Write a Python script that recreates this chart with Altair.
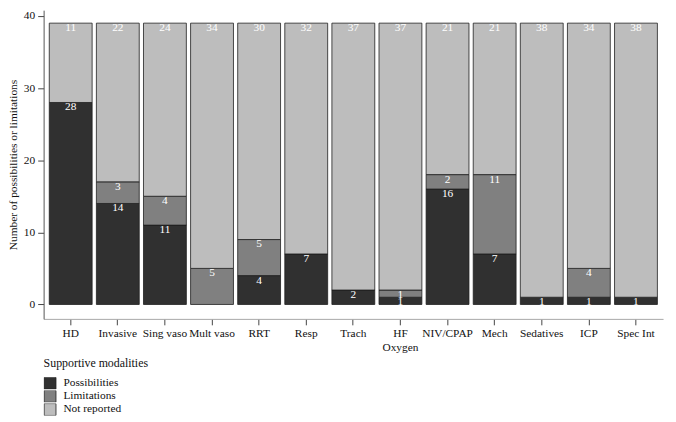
import altair as alt
import pandas as pd

categories = ["HD", "Invasive", "Sing vaso", "Mult vaso", "RRT", "Resp", "Trach",
              "HF Oxygen", "NIV/CPAP", "Mech", "Sedatives", "ICP", "Spec Int"]
possibilities = [28, 14, 11, 0, 4, 7, 2, 1, 16, 7, 1, 1, 1]
limitations = [0, 3, 4, 5, 5, 0, 0, 1, 2, 11, 0, 4, 0]
not_reported = [11, 22, 24, 34, 30, 32, 37, 37, 21, 21, 38, 34, 38]
series = ["Possibilities", "Limitations", "Not reported"]
colors = ["#303030", "#808080", "#bdbdbd"]

rows = []
for i, c in enumerate(categories):
    for k, (s, vals) in enumerate(zip(series, [possibilities, limitations, not_reported])):
        rows.append({"cat": c, "series": s, "ord": k, "value": vals[i]})
df = pd.DataFrame(rows)

FONT = "Liberation Serif"

base = alt.Chart(df).transform_stack(
    stack="value", groupby=["cat"], sort=[alt.SortField("ord", order="ascending")],
    as_=["y0", "y1"]
)

x_enc = alt.X("cat:N", sort=categories, title=None,
              scale=alt.Scale(domain=categories, paddingInner=0.09, paddingOuter=0.12),
              axis=alt.Axis(labelAngle=0, tickSize=6, labelPadding=3,
                            labelExpr="datum.value == 'HF Oxygen' ? ['HF', 'Oxygen'] : datum.value",
                            domainColor="#a8a8a8", tickColor="#444", labelColor="#111",
                            labelFontSize=11.5, labelFont=FONT))

bars = base.mark_bar(stroke="#1e1e1e", strokeWidth=0.8).encode(
    x=x_enc,
    y=alt.Y("y0:Q", title="Number of possibilities or limitations",
            scale=alt.Scale(domain=[-2.0, 40.8], nice=False, zero=False),
            axis=alt.Axis(values=[0, 10, 20, 30, 40], tickSize=6, labelPadding=3,
                          domainColor="#555", tickColor="#444", labelColor="#111",
                          labelFontSize=11.5, titleFontSize=11.5, titleFontWeight="normal",
                          labelFont=FONT, titleFont=FONT, titleColor="#111",
                          grid=False, titlePadding=5)),
    y2="y1:Q",
    color=alt.Color("series:N", sort=series,
                    scale=alt.Scale(domain=series, range=colors),
                    legend=alt.Legend(title="Supportive modalities", orient="none",
                                      legendX=0, legendY=352, symbolType="square",
                                      symbolSize=144, symbolStrokeColor="#1e1e1e",
                                      symbolStrokeWidth=0.8, rowPadding=1.3, clipHeight=12,
                                      labelOffset=7, titlePadding=7, padding=0,
                                      labelFont=FONT, titleFont=FONT, labelFontSize=11.5,
                                      titleFontSize=12, titleFontWeight="normal",
                                      labelColor="#111", titleColor="#111")),
    order=alt.Order("ord:Q"),
).transform_filter("datum.value > 0")

labels = base.transform_filter("datum.value > 0").mark_text(
    color="white", font=FONT, fontSize=11.5, baseline="middle", dy=5
).encode(
    x=alt.X("cat:N", sort=categories),
    y=alt.Y("y1:Q"),
    text=alt.Text("value:Q"),
)

chart = alt.layer(bars, labels).properties(
    width=626, height=312,
    autosize=alt.AutoSizeParams(type="none"),
    padding={"left": 36, "top": 0, "right": 5, "bottom": 100},
).configure_view(stroke=None)

chart.save("out.html", embed_options={"renderer": "svg", "actions": False})
